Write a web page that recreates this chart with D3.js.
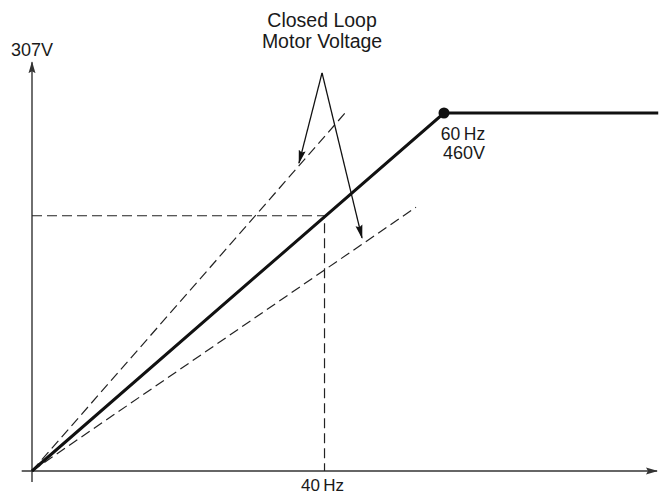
<!DOCTYPE html>
<html>
<head>
<meta charset="utf-8">
<script src="https://cdn.jsdelivr.net/npm/d3@7"></script>
<style>
  body { margin: 0; background: #fff; }
  text { font-family: "Liberation Sans", Arial, sans-serif; fill: #1a1a1a; }
</style>
</head>
<body>
<div id="chart"></div>
<script>
// schematic units: rated point (60 Hz / 460V) = 1
const curveX = [0, 1, 1.52];
const curveY = [0, 1, 1];
const refPoint = [0.71, 0.713];           // 40 Hz / 307V
const upperDash = [[0, 0], [0.76, 1.0]];
const lowerDash = [[0, 0], [0.932, 0.737]];
const calloutApex = [0.704, 1.112];
const calloutTips = [[0.648, 0.86], [0.801, 0.651]];
const axisX = [-0.025, 1.517];
const axisY = [-0.031, 1.142];
const tickLabels = ["40\u2009Hz", "60\u2009Hz", "460V", "307V"];
const title = ["Closed Loop", "Motor Voltage"];

voltageChart();

function voltageChart() {
    let width = 659, height = 494;

    let svg = d3.select("#chart").append("svg")
        .attr("width", width)
        .attr("height", height);

    let x = d3.scaleLinear().domain([0, 1]).range([32, 444]);
    let y = d3.scaleLinear().domain([0, 1]).range([471, 113]);

    let defs = svg.append("defs");
    defs.append("marker")
        .attr("id", "axisHead")
        .attr("markerUnits", "userSpaceOnUse")
        .attr("viewBox", "0 -5 12 10")
        .attr("refX", 11).attr("refY", 0)
        .attr("markerWidth", 12).attr("markerHeight", 10)
        .attr("orient", "auto")
        .append("path").attr("d", "M0,-3.5L12,0L0,3.5L2,0Z").attr("fill", "#333");
    defs.append("marker")
        .attr("id", "callHead")
        .attr("markerUnits", "userSpaceOnUse")
        .attr("viewBox", "0 -5 14 10")
        .attr("refX", 13).attr("refY", 0)
        .attr("markerWidth", 14).attr("markerHeight", 10)
        .attr("orient", "auto")
        .append("path").attr("d", "M0,-3.5L14,0L0,3.5L2,0Z").attr("fill", "#111");

    let line = d3.line().x(d => x(d[0])).y(d => y(d[1]));

    // axes
    svg.append("line")
        .attr("x1", x(axisX[0])).attr("x2", x(axisX[1]))
        .attr("y1", y(0)).attr("y2", y(0))
        .attr("stroke", "#333").attr("stroke-width", 1.4)
        .attr("marker-end", "url(#axisHead)");
    svg.append("line")
        .attr("x1", x(0)).attr("x2", x(0))
        .attr("y1", y(axisY[0])).attr("y2", y(axisY[1]))
        .attr("stroke", "#333").attr("stroke-width", 1.4)
        .attr("marker-end", "url(#axisHead)");

    // dashed guides
    let dash = "10,5";
    svg.append("path")
        .attr("d", line([[0, refPoint[1]], refPoint, [refPoint[0], 0]]))
        .attr("fill", "none").attr("stroke", "#222")
        .attr("stroke-width", 1.2).attr("stroke-dasharray", dash);
    [upperDash, lowerDash].forEach(pts => {
        svg.append("path")
            .attr("d", line(pts))
            .attr("fill", "none").attr("stroke", "#222")
            .attr("stroke-width", 1.2).attr("stroke-dasharray", dash);
    });

    // main V/Hz curve
    svg.append("path")
        .attr("d", line(d3.zip(curveX, curveY)))
        .attr("fill", "none").attr("stroke", "#111")
        .attr("stroke-width", 3);
    svg.append("circle")
        .attr("cx", x(curveX[1])).attr("cy", y(curveY[1]))
        .attr("r", 5.5).attr("fill", "#111");

    // callout arrows
    calloutTips.forEach(t => {
        svg.append("line")
            .attr("x1", x(calloutApex[0])).attr("y1", y(calloutApex[1]))
            .attr("x2", x(t[0])).attr("y2", y(t[1]))
            .attr("stroke", "#111").attr("stroke-width", 1.3)
            .attr("marker-end", "url(#callHead)");
    });

    // labels
    svg.selectAll(".title")
        .data(title)
        .enter()
        .append("text")
        .attr("x", x(calloutApex[0]))
        .attr("y", (d, i) => 27 + i * 21)
        .attr("text-anchor", "middle")
        .style("font-size", "19.5px")
        .text(d => d);

    svg.append("text")
        .attr("x", x(refPoint[0]) - 2).attr("y", 491)
        .attr("text-anchor", "middle")
        .style("font-size", "17px")
        .text(tickLabels[0]);

    svg.append("text")
        .attr("x", x(curveX[1]) + 19).attr("y", y(curveY[1]) + 27)
        .attr("text-anchor", "middle")
        .style("font-size", "17.5px")
        .text(tickLabels[1]);
    svg.append("text")
        .attr("x", x(curveX[1]) + 20).attr("y", y(curveY[1]) + 46)
        .attr("text-anchor", "middle")
        .style("font-size", "18px")
        .text(tickLabels[2]);

    svg.append("text")
        .attr("x", x(0) - 21).attr("y", 56)
        .attr("text-anchor", "start")
        .style("font-size", "18px")
        .text(tickLabels[3]);
}
</script>
</body>
</html>
